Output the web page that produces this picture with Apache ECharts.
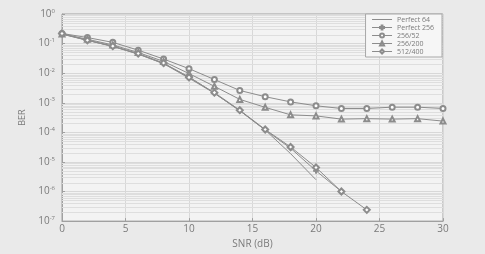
<!DOCTYPE html>
<html>
<head>
<meta charset="utf-8">
<script src="https://cdn.jsdelivr.net/npm/echarts@6/dist/echarts.min.js"></script>
<style>
  html, body { margin: 0; padding: 0; background: #eaeaea; }
  #chart { width: 485px; height: 254px; }
</style>
</head>
<body>
<div id="chart"></div>
<script>
// SNR points (dB)
const snr = [0, 2, 4, 6, 8, 10, 12, 14, 16, 18, 20, 22, 24, 26, 28, 30]
const seriesNames = ['Perfect 64', 'Perfect 256', '256/52', '256/200', '512/400']

// BER
const perfect64 = [0.21, 0.13, 0.08, 0.044, 0.021, 0.0075, 0.0021, 5.4e-4, 1.2e-4, 1.9e-5, 2.5e-6]
const perfect256 = [0.21, 0.128, 0.081, 0.045, 0.021, 0.0068, 0.0021, 5.4e-4, 1.2e-4, 2.9e-5, 5e-6, 1.0e-6]
const ber256_52 = [0.22, 0.16, 0.11, 0.06, 0.030, 0.0142, 0.0061, 0.0026, 0.0016, 0.00107, 7.9e-4, 6.4e-4, 6.4e-4, 7.1e-4, 7.1e-4, 6.4e-4]
const ber256_200 = [0.21, 0.14, 0.09, 0.05, 0.025, 0.0097, 0.0036, 0.0013, 7e-4, 3.9e-4, 3.6e-4, 2.8e-4, 2.9e-4, 2.8e-4, 2.9e-4, 2.4e-4]
const ber512_400 = [0.22, 0.13, 0.082, 0.046, 0.022, 0.0072, 0.0022, 5.6e-4, 1.25e-4, 3.2e-5, 6.5e-6, 1.0e-6, 2.4e-7]

const lineColor = '#8c8c8c'
const textColor = '#7a7a7a'
const gridColor = '#d8d8d8'
const plusSymbol = 'path://M4,0h2v4h4v2h-4v4h-2v-4h-4v-2h4z'

function pairs(ys) {
  return ys.map((y, i) => [snr[i], y])
}

function mkSeries(name, ys, symbol, size) {
  return {
    name: name,
    type: 'line',
    data: pairs(ys),
    symbol: symbol,
    symbolSize: size,
    showSymbol: size > 0,
    lineStyle: { color: lineColor, width: 1 },
    itemStyle: { color: lineColor, borderColor: lineColor, borderWidth: 1 },
    animation: false,
    z: 5,
  }
}

let myChart = echarts.init(document.getElementById('chart'))
myChart.setOption({
  animation: false,
  textStyle: { fontFamily: 'Open Sans' },
  grid: {
    left: 62,
    right: 42,
    top: 14,
    bottom: 26,
    show: true,
    backgroundColor: '#f3f3f3',
    borderColor: '#a0a0a0',
    borderWidth: 1,
  },
  legend: {
    data: [
      { name: 'Perfect 64', itemStyle: { opacity: 0 } },
      'Perfect 256',
      '256/52',
      '256/200',
      '512/400',
    ],
    orient: 'vertical',
    right: 43,
    top: 14,
    z: 10,
    itemWidth: 20,
    itemHeight: 5,
    itemGap: 1,
    padding: [2, 8, 2, 6],
    backgroundColor: '#f6f6f6',
    borderColor: '#a8a8a8',
    borderWidth: 1,
    lineStyle: { color: lineColor, width: 1 },
    textStyle: { color: textColor, fontSize: 7 },
  },
  xAxis: {
    type: 'value',
    min: 0,
    max: 30,
    interval: 5,
    name: 'SNR (dB)',
    nameLocation: 'middle',
    nameGap: 16,
    nameTextStyle: { color: textColor, fontSize: 10 },
    axisLine: { lineStyle: { color: '#a0a0a0' } },
    axisTick: { inside: true, length: 3, lineStyle: { color: '#a0a0a0' } },
    axisLabel: { color: textColor, fontSize: 10, margin: 3 },
    splitLine: { show: true, lineStyle: { color: gridColor, width: 1 } },
  },
  yAxis: {
    type: 'log',
    logBase: 10,
    min: 1e-7,
    max: 1,
    name: 'BER',
    nameLocation: 'middle',
    nameGap: 30,
    nameTextStyle: { color: textColor, fontSize: 9 },
    axisLine: { show: true, lineStyle: { color: '#a0a0a0' } },
    axisTick: { inside: true, length: 3, lineStyle: { color: '#a0a0a0' } },
    axisLabel: {
      color: textColor,
      margin: 7,
      formatter: function (v) {
        const e = Math.round(Math.log10(v))
        return '{b|10}{e|' + (e === 0 ? '0' : '-' + Math.abs(e)) + '}'
      },
      rich: {
        b: { fontSize: 10, color: textColor },
        e: { fontSize: 6, color: textColor, padding: [0, 0, 6, 0] },
      },
    },
    splitLine: { show: true, lineStyle: { color: gridColor, width: 1 } },
  },
  series: [
    mkSeries('Perfect 64', perfect64, 'circle', 0),
    mkSeries('Perfect 256', perfect256, plusSymbol, 5),
    mkSeries('256/52', ber256_52, 'emptyCircle', 5),
    mkSeries('256/200', ber256_200, 'emptyTriangle', 5),
    mkSeries('512/400', ber512_400, 'emptyDiamond', 6),
  ],
})

// minor log grid (2..9 in each decade), placed with the chart's own y scale
let x0 = myChart.convertToPixel({ xAxisIndex: 0 }, 0)
let x1 = myChart.convertToPixel({ xAxisIndex: 0 }, 30)
let minor = []
for (let d = -7; d < 0; d++) {
  for (let k = 2; k <= 9; k++) {
    let y = myChart.convertToPixel({ yAxisIndex: 0 }, k * Math.pow(10, d))
    if (!isFinite(y)) continue
    y = Math.round(y) + 0.5
    minor.push({
      type: 'line',
      silent: true,
      z: 3,
      shape: { x1: x0, y1: y, x2: x1, y2: y },
      style: { stroke: '#dedede', lineWidth: 1 },
    })
  }
}
myChart.setOption({ graphic: { elements: minor } })
</script>
</body>
</html>
